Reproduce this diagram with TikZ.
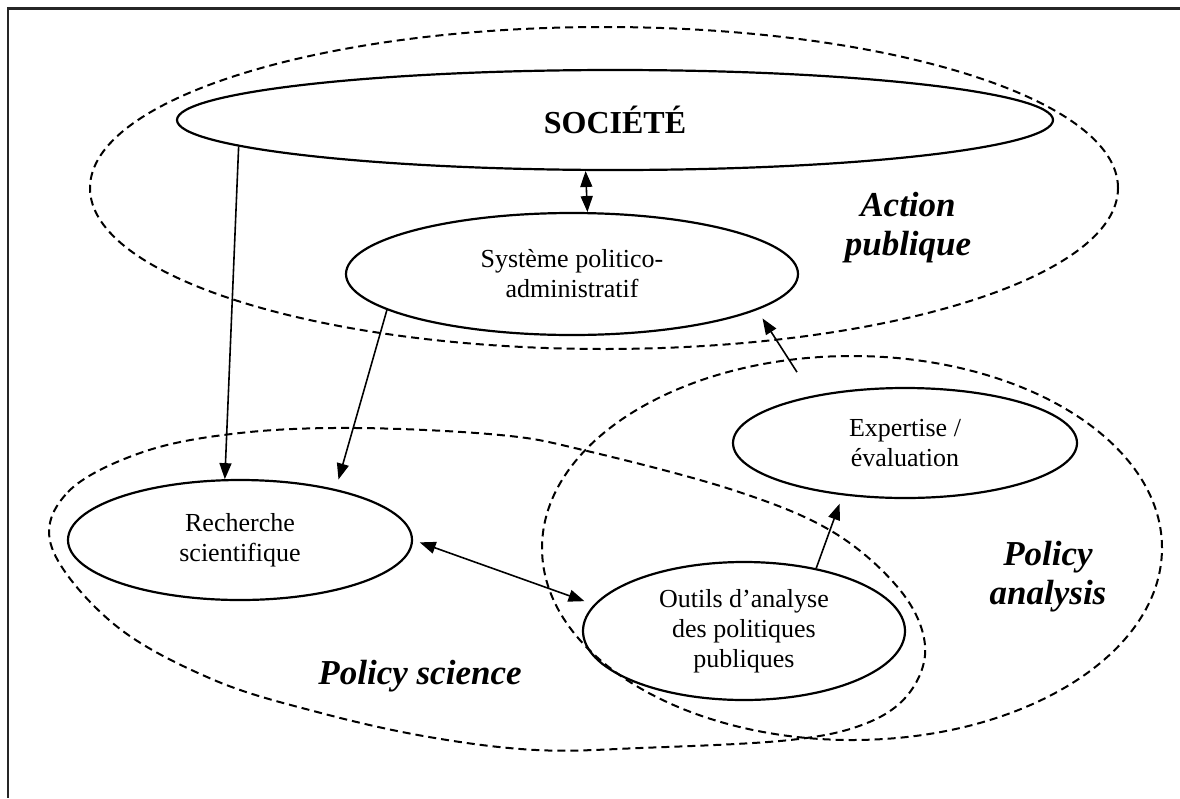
\documentclass[tikz,border=0pt]{standalone}
\usepackage{fontspec}
\setmainfont{Liberation Serif}
\usetikzlibrary{shapes.geometric,arrows.meta}

\begin{document}
\begin{tikzpicture}[x=1pt,y=-1pt,
   bubble/.style={draw,ellipse,line width=2.2pt,inner sep=0pt,align=center,
     font=\fontsize{26}{30}\selectfont},
   zone/.style={draw,dash pattern=on 8pt off 5pt,line width=2pt},
   zonelabel/.style={align=center,font=\fontsize{35}{39}\selectfont\bfseries\itshape},
   link/.style={-{Triangle[length=16pt,width=12pt]},line width=1.6pt},
   duallink/.style={{Triangle[length=16pt,width=12pt]}-{Triangle[length=16pt,width=12pt]},line width=1.6pt}]
  \useasboundingbox (0,0) rectangle (1180,798);
  % cadre
  \draw[line width=2.6pt,black!85] (1180,8.5) -- (8,8.5) -- (8,798);
  % zones
  \node[zone,ellipse,inner sep=0pt,minimum width=1028pt,minimum height=322pt] (ap) at (604,188) {};
  \node[zone,ellipse,inner sep=0pt,minimum width=620pt,minimum height=384pt] (pa) at (852,548) {};
  \draw[zone] plot[smooth cycle,tension=0.6] coordinates {(52,548) (68,492) (143,452) (240,433)
    (357,428) (500,435) (583,450) (733,490) (833,532) (900,590) (925,645) (910,692)
    (867,723) (790,740) (640,748) (536,750) (429,737) (321,713) (214,680) (115,625)};
  \node[zonelabel] (aplab) at (908,228) {Action\\publique};
  \node[zonelabel] (palab) at (1048,577) {Policy\\analysis};
  \node[zonelabel] (pslab) at (420,676) {Policy science};
  % noeuds
  \node[bubble,minimum width=876pt,minimum height=100pt,
    font=\fontsize{32}{36}\selectfont\bfseries] (soc) at (615,120) {SOCIÉTÉ};
  \node[bubble,minimum width=452pt,minimum height=122pt] (sys) at (572,274) {Système politico-\\administratif};
  \node[bubble,minimum width=344pt,minimum height=120pt] (rech) at (240,540) {Recherche\\scientifique};
  \node[bubble,minimum width=344pt,minimum height=110pt] (exp) at (905,443) {Expertise /\\évaluation};
  \node[bubble,minimum width=322pt,minimum height=138pt] (out) at (744,631) {Outils d’analyse\\des politiques\\publiques};
  % liens
  \draw[link] (soc.184) -- (rech.104.1);
  \draw[link,shorten >=10pt] (sys.191.8) -- (rech.28.9);
  \draw[duallink] (soc.240.7) -- (sys.76.2);
  \draw[duallink,shorten <=7pt,shorten >=10pt] (rech.east) -- (out.170.5);
  \draw[link,shorten >=9pt] (out.41.1) -- (exp.220.6);
  \draw[link,shorten <=28pt,shorten >=10pt] (exp.153.5) -- (sys.349.2);
\end{tikzpicture}
\end{document}
